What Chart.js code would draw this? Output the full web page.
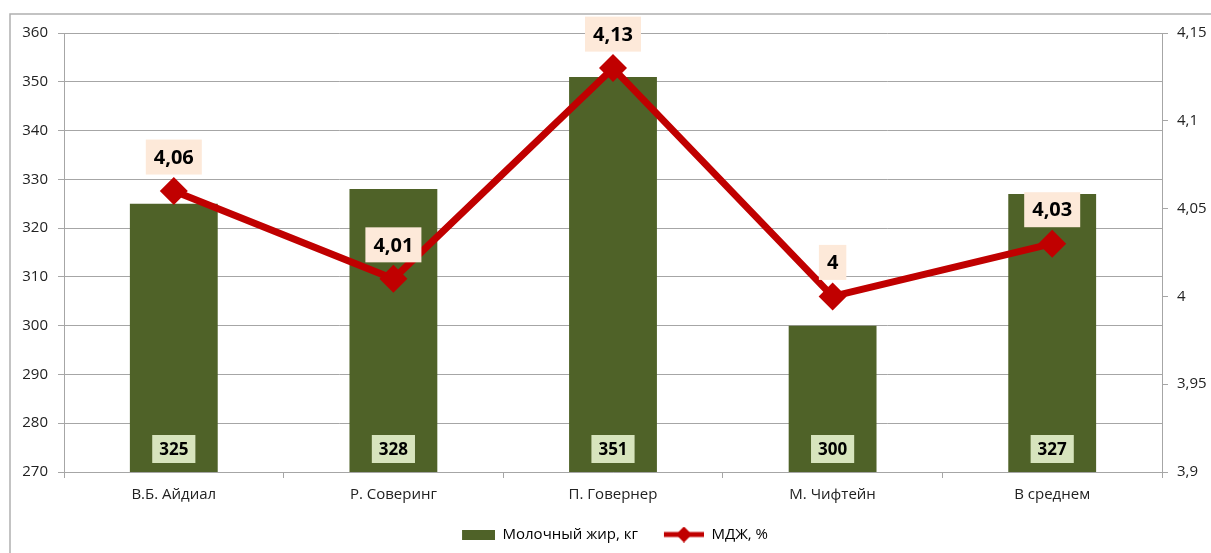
<!DOCTYPE html>
<html><head><meta charset="utf-8">
<script src="https://cdn.jsdelivr.net/npm/chart.js@4/dist/chart.umd.min.js"></script>
<style>html,body{margin:0;padding:0;background:#fff}#wrap{width:1211px;height:553px}</style>
</head><body><div id="wrap"><canvas id="c" width="1211" height="553"></canvas></div>
<script>
const categories = ['В.Б. Айдиал', 'Р. Соверинг', 'П. Говернер', 'М. Чифтейн', 'В среднем'];
const milkFat = [325, 328, 351, 300, 327];
const fatPct = [4.06, 4.01, 4.13, 4.00, 4.03];
const seriesNames = ['Молочный жир, кг', 'МДЖ, %'];

const FONT = "'Open Sans', 'Noto Sans', sans-serif";
const fmt = v => String(Number(Number(v).toFixed(2))).replace('.', ',');

function legendBarIcon() {
  const c = document.createElement('canvas'); c.width = 52; c.height = 10;
  const x = c.getContext('2d'); x.fillStyle = '#4f6228'; x.fillRect(19, 0, 33, 10); return c;
}
function legendLineIcon() {
  const c = document.createElement('canvas'); c.width = 52; c.height = 16;
  const x = c.getContext('2d'); x.strokeStyle = '#c00000'; x.lineWidth = 5;
  x.beginPath(); x.moveTo(12, 8); x.lineTo(52, 8); x.stroke();
  x.fillStyle = '#c00000'; x.beginPath(); x.moveTo(32, 0); x.lineTo(40, 8); x.lineTo(32, 16); x.lineTo(24, 8); x.closePath(); x.fill();
  return c;
}

const framePlugin = {
  id: 'frame',
  beforeDraw(chart) {
    const ctx = chart.ctx; ctx.save();
    ctx.fillStyle = '#fff'; ctx.fillRect(0, 0, chart.width, chart.height);
    ctx.strokeStyle = '#b0b0b0'; ctx.lineWidth = 1.5;
    ctx.beginPath(); ctx.moveTo(10, chart.height); ctx.lineTo(10, 14); ctx.lineTo(chart.width, 14); ctx.stroke();
    ctx.restore();
  }
};

const labelPlugin = {
  id: 'vlabels',
  afterDatasetsDraw(chart) {
    const ctx = chart.ctx; ctx.save();
    ctx.textAlign = 'center'; ctx.textBaseline = 'middle';
    const barMeta = chart.getDatasetMeta(0);
    ctx.font = "bold 17px " + FONT;
    barMeta.data.forEach((el, i) => {
      const t = String(milkFat[i]);
      const w = ctx.measureText(t).width + 14, h = 28;
      const cy = chart.chartArea.bottom - 23;
      ctx.fillStyle = '#d7e4bd'; ctx.fillRect(el.x - w / 2, cy - h / 2, w, h);
      ctx.fillStyle = '#000'; ctx.fillText(t, el.x, cy + 1);
    });
    const lineMeta = chart.getDatasetMeta(1);
    ctx.font = "bold 20px " + FONT;
    lineMeta.data.forEach((el, i) => {
      const t = fmt(fatPct[i]);
      const w = ctx.measureText(t).width + 16, h = 35;
      const cy = el.y - 34;
      ctx.fillStyle = '#fde9d9'; ctx.fillRect(el.x - w / 2, cy - h / 2, w, h);
      ctx.fillStyle = '#000'; ctx.fillText(t, el.x, cy + 1);
    });
    ctx.restore();
  }
};

new Chart(document.getElementById('c'), {
  data: {
    labels: categories,
    datasets: [
      { type: 'bar', label: seriesNames[0], data: milkFat, backgroundColor: '#4f6228', yAxisID: 'y', order: 1,
        barPercentage: 0.4, categoryPercentage: 1.0 },
      { type: 'line', label: seriesNames[1], data: fatPct, borderColor: '#c00000', backgroundColor: '#c00000', borderWidth: 7,
        pointStyle: 'rectRot', pointRadius: 14, pointHoverRadius: 14, pointBackgroundColor: '#c00000', pointBorderWidth: 0,
        yAxisID: 'y2', order: 0, tension: 0 }
    ]
  },
  options: {
    responsive: false, animation: false, devicePixelRatio: 1,
    layout: { padding: { top: 33, left: 0, right: 0, bottom: 1 } },
    plugins: {
      tooltip: { enabled: false },
      legend: {
        position: 'bottom',
        labels: {
          usePointStyle: true, pointStyleWidth: 52, padding: 14, color: '#222',
          font: { family: FONT, size: 15 },
          generateLabels() {
            return [
              { text: seriesNames[0], pointStyle: legendBarIcon(), fillStyle: '#4f6228', strokeStyle: '#4f6228', lineWidth: 0, datasetIndex: 0, hidden: false },
              { text: seriesNames[1], pointStyle: legendLineIcon(), fillStyle: '#c00000', strokeStyle: '#c00000', lineWidth: 0, datasetIndex: 1, hidden: false }
            ];
          }
        }
      }
    },
    scales: {
      x: {
        offset: true,
        grid: { display: true, drawOnChartArea: false, offset: true, color: '#a6a6a6', tickLength: 6 },
        border: { color: '#a6a6a6' },
        ticks: { color: '#222', font: { family: FONT, size: 15 }, padding: 8, maxRotation: 0 },
        afterFit(s) { s.height = 41; }
      },
      y: {
        position: 'left', min: 270, max: 360,
        ticks: { stepSize: 10, color: '#222', font: { family: FONT, size: 15 }, padding: 10 },
        grid: { color: '#a6a6a6', tickLength: 6 },
        border: { color: '#a6a6a6' },
        afterFit(s) { s.width = 64; }
      },
      y2: {
        position: 'right', min: 3.9, max: 4.15,
        ticks: { stepSize: 0.05, color: '#222', font: { family: FONT, size: 15 }, padding: 9, callback: v => fmt(v) },
        grid: { drawOnChartArea: false, color: '#a6a6a6', tickLength: 6 },
        border: { color: '#a6a6a6' },
        afterFit(s) { s.width = 49; }
      }
    }
  },
  plugins: [framePlugin, labelPlugin]
});
</script>
</body></html>
